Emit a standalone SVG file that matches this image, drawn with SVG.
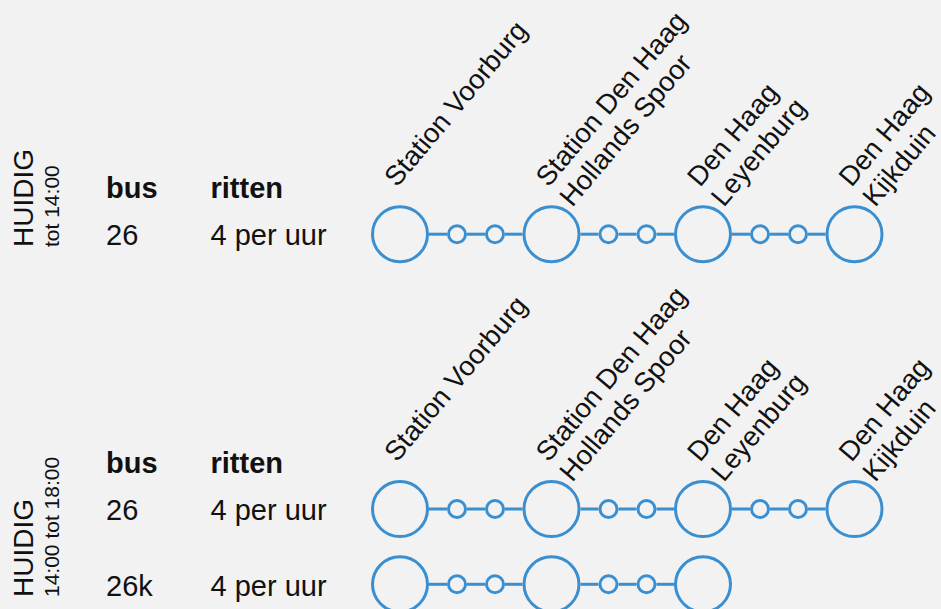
<svg xmlns="http://www.w3.org/2000/svg" width="941" height="609" viewBox="0 0 941 609">
<style>
.bg{fill:#f2f2f2}
.big{fill:#f2f2f2;stroke:#3a8fd1;stroke-width:3}
.sm{fill:#f2f2f2;stroke:#3a8fd1;stroke-width:3}
.ln{stroke:#3a8fd1;stroke-width:3}
.t{font-family:"Liberation Sans",Arial,sans-serif;fill:#111;font-size:29px}
.h{font-size:28px}
.b{font-weight:bold}
.sub{font-size:21px}
.lab{font-family:"Liberation Sans",Arial,sans-serif;fill:#111;font-size:27.5px}
</style>
<rect class="bg" width="941" height="609"/>
<g id="headers">
<text class="t h" transform="translate(33,247) rotate(-90)">HUIDIG</text>
<text class="t sub" transform="translate(59,247) rotate(-90)">tot 14:00</text>
<text class="t b" x="106" y="198">bus</text>
<text class="t b" x="210.5" y="198">ritten</text>
<text class="t" x="106" y="245">26</text>
<text class="t" x="210.5" y="245">4 per uur</text>
<text class="t h" transform="translate(33,597) rotate(-90)">HUIDIG</text>
<text class="t sub" transform="translate(59,597) rotate(-90)">14:00 tot 18:00</text>
<text class="t b" x="106" y="472.5">bus</text>
<text class="t b" x="210.5" y="472.5">ritten</text>
<text class="t" x="106" y="520">26</text>
<text class="t" x="210.5" y="520">4 per uur</text>
<text class="t" x="106" y="595.5">26k</text>
<text class="t" x="210.5" y="595.5">4 per uur</text>
</g>
<g id="labels1">
<text class="lab" transform="translate(397,188) rotate(-50)">Station Voorburg</text>
<text class="lab" transform="translate(548.5,188) rotate(-50)"><tspan x="0" y="0">Station Den Haag</tspan><tspan x="0" y="31">Hollands Spoor</tspan></text>
<text class="lab" transform="translate(700,188) rotate(-50)"><tspan x="0" y="0">Den Haag</tspan><tspan x="0" y="31">Leyenburg</tspan></text>
<text class="lab" transform="translate(851.5,188) rotate(-50)"><tspan x="0" y="0">Den Haag</tspan><tspan x="0" y="31">Kijkduin</tspan></text>
</g>
<g id="labels2">
<text class="lab" transform="translate(397,463) rotate(-50)">Station Voorburg</text>
<text class="lab" transform="translate(548.5,463) rotate(-50)"><tspan x="0" y="0">Station Den Haag</tspan><tspan x="0" y="31">Hollands Spoor</tspan></text>
<text class="lab" transform="translate(700,463) rotate(-50)"><tspan x="0" y="0">Den Haag</tspan><tspan x="0" y="31">Leyenburg</tspan></text>
<text class="lab" transform="translate(851.5,463) rotate(-50)"><tspan x="0" y="0">Den Haag</tspan><tspan x="0" y="31">Kijkduin</tspan></text>
</g>
<g id="connectors">
<line class="ln" x1="429" y1="234.2" x2="447" y2="234.2"/>
<line class="ln" x1="467" y1="234.2" x2="485" y2="234.2"/>
<line class="ln" x1="505" y1="234.2" x2="522.5" y2="234.2"/>
<line class="ln" x1="580.5" y1="234.2" x2="598.5" y2="234.2"/>
<line class="ln" x1="618.5" y1="234.2" x2="636.5" y2="234.2"/>
<line class="ln" x1="656.5" y1="234.2" x2="674" y2="234.2"/>
<line class="ln" x1="732" y1="234.2" x2="750" y2="234.2"/>
<line class="ln" x1="770" y1="234.2" x2="788" y2="234.2"/>
<line class="ln" x1="808" y1="234.2" x2="825.5" y2="234.2"/>
<line class="ln" x1="429" y1="509" x2="447" y2="509"/>
<line class="ln" x1="467" y1="509" x2="485" y2="509"/>
<line class="ln" x1="505" y1="509" x2="522.5" y2="509"/>
<line class="ln" x1="580.5" y1="509" x2="598.5" y2="509"/>
<line class="ln" x1="618.5" y1="509" x2="636.5" y2="509"/>
<line class="ln" x1="656.5" y1="509" x2="674" y2="509"/>
<line class="ln" x1="732" y1="509" x2="750" y2="509"/>
<line class="ln" x1="770" y1="509" x2="788" y2="509"/>
<line class="ln" x1="808" y1="509" x2="825.5" y2="509"/>
<line class="ln" x1="429" y1="584.3" x2="447" y2="584.3"/>
<line class="ln" x1="467" y1="584.3" x2="485" y2="584.3"/>
<line class="ln" x1="505" y1="584.3" x2="522.5" y2="584.3"/>
<line class="ln" x1="580.5" y1="584.3" x2="598.5" y2="584.3"/>
<line class="ln" x1="618.5" y1="584.3" x2="636.5" y2="584.3"/>
<line class="ln" x1="656.5" y1="584.3" x2="674" y2="584.3"/>
</g>
<g id="route1">
<circle id="r1-voorburg" class="big" cx="400" cy="234.2" r="27.5"/>
<circle id="r1-s1" class="sm" cx="457" cy="234.2" r="8.5"/>
<circle id="r1-s2" class="sm" cx="495" cy="234.2" r="8.5"/>
<circle id="r1-hs" class="big" cx="551.5" cy="234.2" r="27.5"/>
<circle id="r1-s3" class="sm" cx="608.5" cy="234.2" r="8.5"/>
<circle id="r1-s4" class="sm" cx="646.5" cy="234.2" r="8.5"/>
<circle id="r1-leyenburg" class="big" cx="703" cy="234.2" r="27.5"/>
<circle id="r1-s5" class="sm" cx="760" cy="234.2" r="8.5"/>
<circle id="r1-s6" class="sm" cx="798" cy="234.2" r="8.5"/>
<circle id="r1-kijkduin" class="big" cx="854.5" cy="234.2" r="27.5"/>
</g>
<g id="route2">
<circle id="r2-voorburg" class="big" cx="400" cy="509" r="27.5"/>
<circle id="r2-s1" class="sm" cx="457" cy="509" r="8.5"/>
<circle id="r2-s2" class="sm" cx="495" cy="509" r="8.5"/>
<circle id="r2-hs" class="big" cx="551.5" cy="509" r="27.5"/>
<circle id="r2-s3" class="sm" cx="608.5" cy="509" r="8.5"/>
<circle id="r2-s4" class="sm" cx="646.5" cy="509" r="8.5"/>
<circle id="r2-leyenburg" class="big" cx="703" cy="509" r="27.5"/>
<circle id="r2-s5" class="sm" cx="760" cy="509" r="8.5"/>
<circle id="r2-s6" class="sm" cx="798" cy="509" r="8.5"/>
<circle id="r2-kijkduin" class="big" cx="854.5" cy="509" r="27.5"/>
</g>
<g id="route3">
<circle id="r3-voorburg" class="big" cx="400" cy="584.3" r="27.5"/>
<circle id="r3-s1" class="sm" cx="457" cy="584.3" r="8.5"/>
<circle id="r3-s2" class="sm" cx="495" cy="584.3" r="8.5"/>
<circle id="r3-hs" class="big" cx="551.5" cy="584.3" r="27.5"/>
<circle id="r3-s3" class="sm" cx="608.5" cy="584.3" r="8.5"/>
<circle id="r3-s4" class="sm" cx="646.5" cy="584.3" r="8.5"/>
<circle id="r3-leyenburg" class="big" cx="703" cy="584.3" r="27.5"/>
</g>
</svg>
